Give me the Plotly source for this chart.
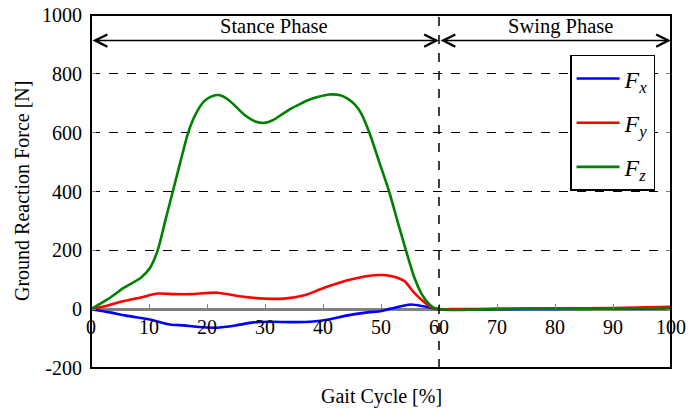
import plotly.graph_objects as go

# ---------------- data ----------------
fz_x = [0, 2.9, 5.7, 8.6, 10.1, 11.5, 12.8, 14.1, 15.4, 16.7, 17.6, 18.4, 19.2, 20.1, 21.0, 21.8,
        22.7, 23.6, 24.5, 25.3, 26.5, 27.6, 28.6, 29.6, 30.6, 31.6, 33.0, 34.5, 36.0, 37.4, 39.2,
        41.1, 43.0, 44.3, 45.5, 46.6, 48.0, 49.7, 51.4, 52.9, 54.3, 55.7, 57.0, 58.3, 59.3, 60,
        62, 65, 70, 75, 80, 85, 90, 95, 100]
fz_y = [0, 34, 73, 107, 138, 200, 300, 400, 500, 597, 645, 676, 700, 716, 725, 728,
        724, 713, 698, 682, 660, 645, 636, 633, 636, 645, 663, 682, 697, 710, 722,
        730, 727, 715, 695, 665, 600, 500, 400, 295, 200, 110, 52, 17, 3, 0,
        -3, -2, 0, 2, 2, 1, 2, 3, 4]

fy_x = [0, 2.8, 5.7, 8.6, 11.5, 14.4, 17.2, 21.8, 25.9, 29.9, 33.3, 36.8, 40.2, 44.8, 49.4,
        51.7, 54.0, 55.7, 57.5, 59.2, 60, 62, 70, 80, 90, 100]
fy_y = [0, 12, 28, 40, 53, 51, 51, 56, 43, 36, 36, 47, 73, 101, 116,
        113, 96, 56, 23, 2, 0, 0, 1, 2, 4, 8]

fx_x = [0, 3, 6, 10.3, 13.6, 16, 18.2, 21.7, 25, 28, 31, 35, 38.3, 41, 44, 47.7, 49.8, 51.7,
        53.5, 55.2, 57.5, 60, 62, 70, 80, 90, 100]
fx_y = [0, -10, -22, -36, -52, -55, -60, -63, -55, -45, -43, -44, -42, -35, -22, -11, -7, 2,
        10, 16, 9, 0, -2, 0, 1, 2, 3]

series_names = ["<i>F</i><sub><i>x</i></sub>", "<i>F</i><sub><i>y</i></sub>", "<i>F</i><sub><i>z</i></sub>"]
series_colors = ["#0000ff", "#ff0000", "#008000"]

x_ticks = [0, 10, 20, 30, 40, 50, 60, 70, 80, 90, 100]
x_tick_labels = ["0", "10", "20", "30", "40", "50", "60", "70", "80", "90", "100"]
y_ticks = [-200, 0, 200, 400, 600, 800, 1000]
y_tick_labels = ["-200", "0", "200", "400", "600", "800", "1000"]

STANCE_END = 60
CYCLE_END = 100
PHASE_ARROW_Y = 913
PHASE_TEXT_Y = 961
phase_labels = ["Stance Phase", "Swing Phase"]

FONT = "Liberation Serif"

fig = go.Figure()
for i, (xs, ys, name, col) in enumerate(zip([fx_x, fy_x, fz_x], [fx_y, fy_y, fz_y],
                                             series_names, series_colors)):
    fig.add_trace(go.Scatter(x=xs, y=ys, mode="lines", name=name, legendgroup=f"g{i}",
                             line=dict(color=col, width=2.6, shape="spline", smoothing=0.7)))

# position of the x axis (at y=0) as paper fraction
x_axis_pos = (0 - y_ticks[0]) / (y_ticks[-1] - y_ticks[0])

fig.update_layout(
    width=699, height=410,
    margin=dict(l=91, r=28, t=15, b=42, autoexpand=False),
    plot_bgcolor="white", paper_bgcolor="white",
    font=dict(family=FONT, size=19, color="black"),
    showlegend=True,
    legend=dict(x=0.826, y=0.887, xanchor="left", yanchor="top",
                bgcolor="white", bordercolor="black", borderwidth=1.5,
                font=dict(family=FONT, size=24), tracegroupgap=10,
                itemwidth=43),
    xaxis=dict(range=[0, CYCLE_END], tickvals=x_ticks, ticktext=x_tick_labels,
               anchor="free", position=x_axis_pos, showgrid=False, zeroline=False,
               showline=False, ticks="inside", ticklen=5, tickcolor="#808080", tickwidth=1,
               tickfont=dict(family=FONT, size=20), automargin=False, ticklabelstandoff=4),
    yaxis=dict(range=[y_ticks[0], y_ticks[-1]], tickvals=y_ticks, ticktext=y_tick_labels,
               showgrid=True, gridcolor="black", griddash="dash", gridwidth=1,
               zeroline=True, zerolinecolor="#808080", zerolinewidth=2.5,
               showline=False, ticks="inside", ticklen=5, tickcolor="#808080", tickwidth=1,
               mirror="ticks", tickfont=dict(family=FONT, size=20), automargin=False,
               ticklabelstandoff=8),
)

# plot frame
fig.add_shape(type="rect", xref="paper", yref="paper", x0=0, x1=1, y0=0, y1=1,
              line=dict(color="black", width=2), layer="above")
# stance/swing boundary
fig.add_shape(type="line", xref="x", yref="paper", x0=STANCE_END, x1=STANCE_END, y0=0, y1=1,
              line=dict(color="black", width=1.5, dash="dash"), layer="above")

# phase arrows
for x0, x1 in [(0, STANCE_END), (STANCE_END, CYCLE_END)]:
    fig.add_annotation(x=x1, y=PHASE_ARROW_Y, ax=x0, ay=PHASE_ARROW_Y, xref="x", yref="y",
                       axref="x", ayref="y", text="", showarrow=True,
                       arrowhead=5, startarrowhead=5, arrowside="end+start",
                       arrowsize=1.6, startarrowsize=1.6, arrowwidth=1.5, arrowcolor="black",
                       standoff=0, startstandoff=0)
fig.add_annotation(x=31.5, y=PHASE_TEXT_Y, xref="x", yref="y", text=phase_labels[0],
                   showarrow=False, font=dict(family=FONT, size=20.5))
fig.add_annotation(x=81, y=PHASE_TEXT_Y, xref="x", yref="y", text=phase_labels[1],
                   showarrow=False, font=dict(family=FONT, size=20.5))

# axis titles
fig.add_annotation(x=0.5, y=-0.082, xref="paper", yref="paper", text="Gait Cycle [%]",
                   showarrow=False, yanchor="middle", font=dict(family=FONT, size=20))
fig.add_annotation(x=-0.119, y=0.504, xref="paper", yref="paper", text="Ground Reaction Force [N]",
                   showarrow=False, textangle=-90, xanchor="center", yanchor="middle",
                   font=dict(family=FONT, size=20))

fig.write_html("out.html", config={"displayModeBar": False},
               post_script="document.body.style.margin='0';document.body.style.overflow='hidden';")
